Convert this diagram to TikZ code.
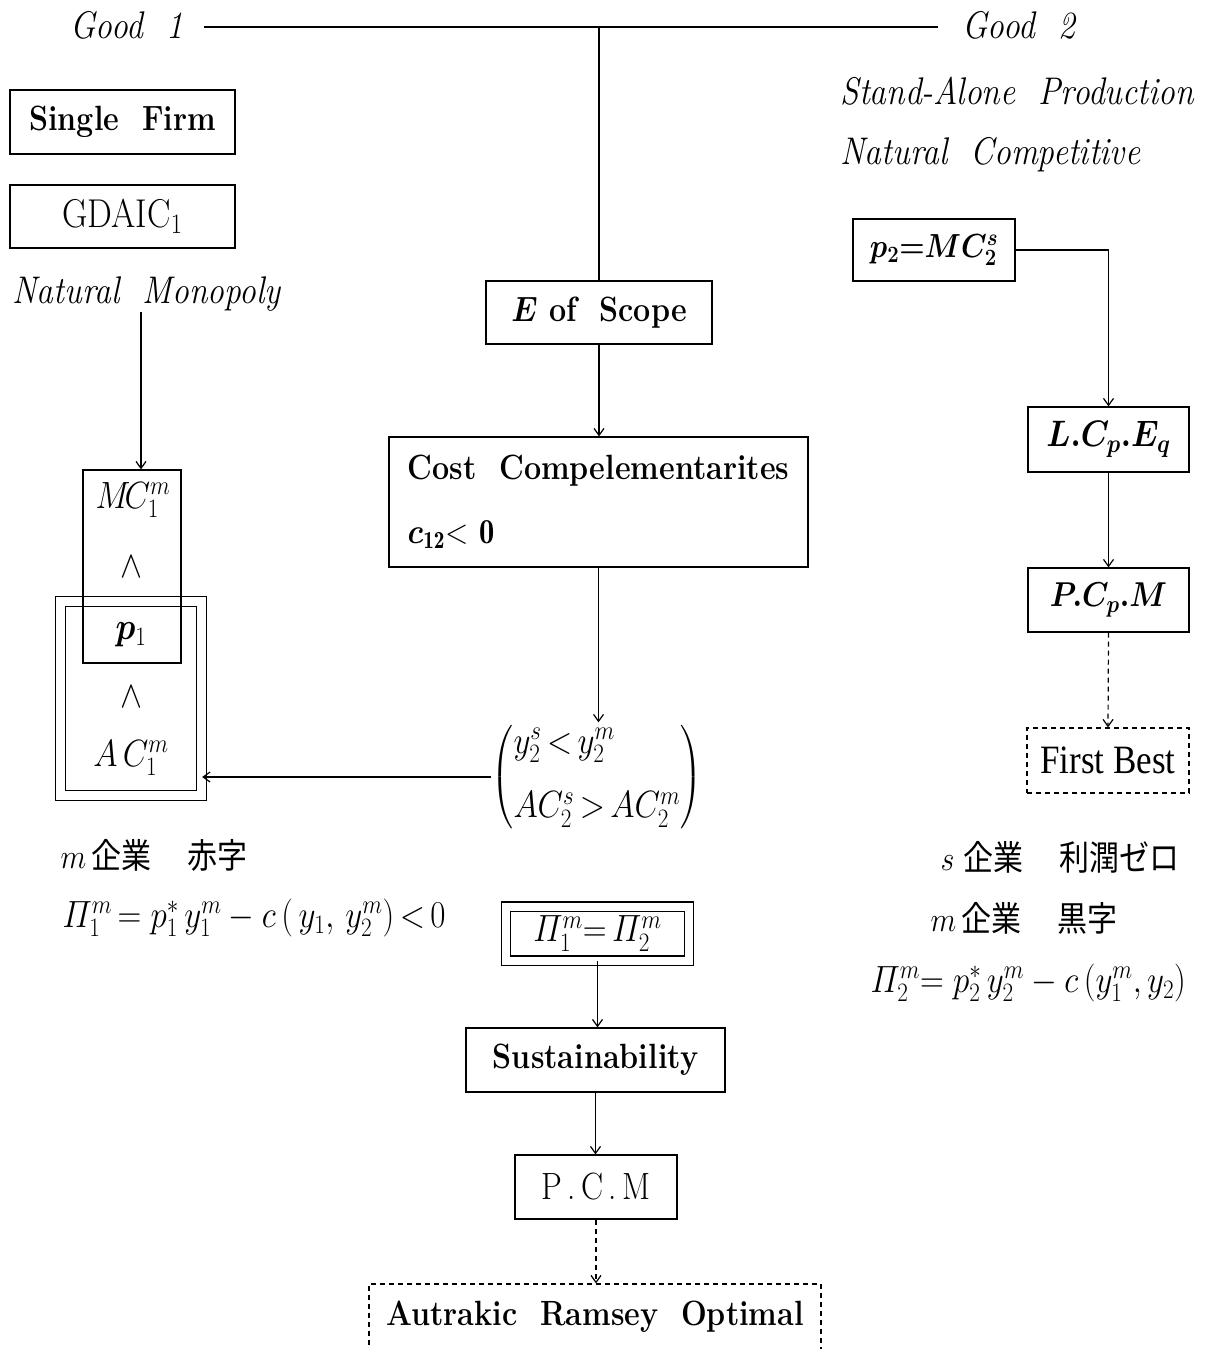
\RequirePackage{fix-cm}
\documentclass[tikz,border=0pt]{standalone}
\usepackage{amsmath}
\usepackage{bm}
\usepackage{graphicx}
\usepackage{fontspec}
\newfontfamily\jp{Noto Sans CJK JP}
\newfontfamily\timesfont{Liberation Serif}
\newcommand{\vs}[1]{\scalebox{1}[1.15]{#1}}
\usetikzlibrary{arrows.meta}
\begin{document}
\begin{tikzpicture}[x=1pt,y=-1pt,line width=1.2pt,
  box/.style={draw,rectangle,inner sep=0pt,font=\fontsize{30.5}{36}\selectfont\bfseries},
  dbox/.style={box,dash pattern=on 5pt off 4pt},
  lbl/.style={inner sep=0pt,font=\fontsize{33.5}{38}\selectfont\itshape},
  mth/.style={inner sep=0pt,font=\fontsize{33}{38}\selectfont},
  jtxt/.style={inner sep=0pt,font=\fontsize{30}{36}\selectfont},
  arr/.style={-{Straight Barb[length=7pt,width=10pt]}},
  darr/.style={arr,dash pattern=on 5pt off 4pt}]
\useasboundingbox (0,0) rectangle (1208,1349);

% top labels
\node[lbl,anchor=west] (good1) at (70,25) {\vs{Good\ \ 1}};
\node[lbl,anchor=west] (good2) at (962,25) {\vs{Good\ \ 2}};
\coordinate (hl) at ([xshift=20pt,yshift=-2pt]good1.east);
\coordinate (hr) at ([xshift=-24pt,yshift=-2pt]good2.west);
\draw (hl) -- (hr);

% left column
\node[box,minimum width=225pt,minimum height=64pt] (single) at (122.5,122) {\vs{Single\ \ Firm}};
\node[box,minimum width=225pt,minimum height=63pt,font=\fontsize{35}{40}\selectfont] (gdaic) at (122.5,216.5) {\vs{GDAIC$_1$}};
\node[lbl,anchor=west] (natmono) at (12,294) {\vs{Natural\ \ Monopoly}};

\node[draw,rectangle,double,double distance=8.5pt,minimum width=141pt,minimum height=194pt,inner sep=0pt] (acbox) at (131,698.5) {};
\node[draw,rectangle,minimum width=98pt,minimum height=193pt,inner sep=0pt] (mcbox) at (132,566.5) {};
\node[mth] (mc) at (133,500) {\vs{$M\!C_1^m$}};
\node[mth] (w1) at (131,567) {\vs{$\wedge$}};
\node[mth] (p1) at (131,635) {\vs{$\bm{p}_1$}};
\node[mth] (w2) at (131,697) {\vs{$\wedge$}};
\node[mth] (ac) at (131,758) {\vs{$A\,C_1^m$}};
\draw[arr] ([xshift=9pt]mcbox.north |- natmono.south) -- ([xshift=9pt]mcbox.north);

\node[jtxt,anchor=west] (mleft) at (60,855) {\vs{$m$\,\jp 企業\hspace{1.2em}赤字}};
\node[mth,anchor=west] (pileft) at (62,918) {\vs{$\varPi_1^m\,{=}\;p_1^*\,y_1^m-c\,(\,y_1,\,y_2^m)\,{<}\,0$}};

% centre column
\node[box,minimum width=226pt,minimum height=63pt] (scope) at (599,312.5) {\vs{$\bm{E}$ of\ \ Scope}};
\draw (scope.north) -- (scope.north |- hl);
\node[box,minimum width=419pt,minimum height=130pt,align=left] (cost) at (598.5,502)
  {\vs{Cost\ \ Compelementarites}\\[28pt]\vs{$\bm{c}_{\mathbf{12}}{<}\ \mathbf{0}$}};
\draw[arr] (scope.south) -- (scope.south |- cost.north);
\node[mth] (paren) at (597,777) {\vs{$\left(\begin{array}{@{}l@{}}y_2^s\,{<}\,y_2^m\\[18pt]AC_2^s\,{>}\,AC_2^m\end{array}\right)$}};
\draw[arr] (cost.south) -- (cost.south |- paren.north);
\draw[arr] (paren.west) -- (paren.west -| acbox.east);

\node[draw,rectangle,double,double distance=8pt,minimum width=183pt,minimum height=54pt,inner sep=0pt,font=\fontsize{33}{38}\selectfont] (pibox) at (597.5,933.5) {\vs{$\varPi_1^m{=}\,\varPi_2^m$}};
\node[box,minimum width=259pt,minimum height=64pt] (sust) at (595.5,1060) {\vs{Sustainability}};
\node[box,minimum width=162pt,minimum height=64pt,font=\fontsize{33}{38}\selectfont] (pcm) at (596,1187) {\vs{P\,.\,C\,.\,M}};
\node[dbox,minimum width=452pt,minimum height=66pt] (ramsey) at (595,1317) {\vs{Autrakic\ \ Ramsey\ \ Optimal}};
\draw[arr] (pibox.south) -- (pibox.south |- sust.north);
\draw[arr] (sust.south) -- (sust.south |- pcm.north);
\draw[darr] (pcm.south) -- (pcm.south |- ramsey.north);

% right column
\node[lbl,anchor=west] (standalone) at (840,91) {\vs{Stand-Alone\ \ Production}};
\node[lbl,anchor=west] (natcomp) at (840,155) {\vs{Natural\ \ Competitive}};
\node[box,minimum width=162pt,minimum height=62pt,font=\fontsize{29}{34}\selectfont] (p2) at (934,250) {\vs{$\bm{p_2{=}MC_2^s}$}};
\node[box,minimum width=161pt,minimum height=65pt,font=\fontsize{32}{36}\selectfont] (lcp) at (1108.5,439.5) {\vs{$\bm{L.C_p.E_q}$}};
\node[box,minimum width=161pt,minimum height=64pt,font=\fontsize{30}{36}\selectfont] (pcp) at (1108.5,600) {\vs{$\bm{P.C_p.M}$}};
\node[dbox,minimum width=162pt,minimum height=65pt,font=\fontsize{35}{40}\timesfont] (first) at (1108,760.5) {\vs{First Best}};
\draw[arr] (p2.east) -| (lcp.north);
\draw[arr] (lcp.south) -- (pcp.north);
\draw[darr] (pcp.south) -- (first.north);

\node[jtxt,anchor=west] (sright) at (940,857) {\vs{$s$\ \jp 企業\hspace{1.2em}利潤ゼロ}};
\node[jtxt,anchor=west] (mright) at (930,918) {\vs{$m$\,\jp 企業\hspace{1.2em}黒字}};
\node[mth,anchor=west] (piright) at (870,983) {\vs{$\varPi_2^m{=}\;p_2^*\,y_2^m-c\,(y_1^m,y_2)$}};
\end{tikzpicture}
\end{document}
